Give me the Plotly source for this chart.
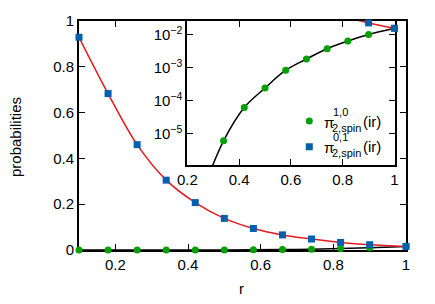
import numpy as np
import plotly.graph_objects as go

# ---- data ----
r = [0.10, 0.18, 0.26, 0.34, 0.42, 0.50, 0.58, 0.66, 0.74, 0.82, 0.90, 1.00]
p01 = [0.929, 0.683, 0.460, 0.305, 0.207, 0.138, 0.094, 0.066, 0.048, 0.033, 0.023, 0.0158]
p10 = [3e-11, 5e-9, 2e-7, 6.2e-6, 6.3e-5, 2.45e-4, 8.5e-4, 1.86e-3, 3.8e-3, 6.5e-3, 1.02e-2, 1.58e-2]

main_xticks = [0.2, 0.4, 0.6, 0.8, 1.0]
main_xlabels = ["0.2", "0.4", "0.6", "0.8", "1"]
main_yticks = [0, 0.2, 0.4, 0.6, 0.8, 1.0]
main_ylabels = ["0", "0.2", "0.4", "0.6", "0.8", "1"]
inset_xticks = [0.2, 0.4, 0.6, 0.8, 1.0]
inset_xlabels = ["0.2", "0.4", "0.6", "0.8", "1"]
inset_yticks = [1e-5, 1e-4, 1e-3, 1e-2]
inset_ylabels = ["10<sup>\u22125</sup>", "10<sup>\u22124</sup>", "10<sup>\u22123</sup>", "10<sup>\u22122</sup>"]

GREEN = "#00a000"
BLUE = "#0060ad"
RED = "#e41a1c"
FONT = "Liberation Sans, Arial, sans-serif"

OFF = 8  # page body margin
W, H = 435 - OFF, 304 - OFF
# plot area in page pixels: x 79..406, y 21..250
L_PG, R_PG, T_PG, B_PG = 79, 406, 21, 250
ML, MT = L_PG - OFF, T_PG - OFF
MR, MB = W - (R_PG - OFF), H - (B_PG - OFF)
PW, PH = R_PG - L_PG, B_PG - T_PG


def px(x):
    return (x - L_PG) / PW


def py(y):
    return (B_PG - y) / PH


fig = go.Figure()

for xa, ya in [("x", "y"), ("x2", "y2")]:
    fig.add_trace(go.Scatter(x=r, y=p10, mode="lines", line=dict(color="black", width=1.5, shape="spline"),
                             xaxis=xa, yaxis=ya, showlegend=False, hoverinfo="skip"))
    fig.add_trace(go.Scatter(x=r, y=p10, mode="markers", marker=dict(color=GREEN, size=7, symbol="circle"),
                             xaxis=xa, yaxis=ya, cliponaxis=False, showlegend=(xa == "x2"),
                             name=" ", legend="legend"))
    fig.add_trace(go.Scatter(x=r, y=p01, mode="lines", line=dict(color=RED, width=1.5, shape="spline"),
                             xaxis=xa, yaxis=ya, showlegend=False, hoverinfo="skip"))
    fig.add_trace(go.Scatter(x=r, y=p01, mode="markers", marker=dict(color=BLUE, size=7, symbol="square"),
                             xaxis=xa, yaxis=ya, cliponaxis=False, showlegend=(xa == "x2"),
                             name=" ", legend="legend2"))

axis_common = dict(showline=True, linecolor="black", linewidth=2, mirror="ticks", ticks="inside",
                   tickcolor="black", tickwidth=1, ticklen=6, showgrid=False, zeroline=False,
                   automargin=False,
                   tickfont=dict(family=FONT, size=15, color="black"), layer="below traces")

inset_x0, inset_x1 = px(187.3), px(394.5)
inset_y0 = py(165)

fig.update_layout(
    template="none",
    width=W, height=H,
    margin=dict(l=ML, r=MR, t=MT, b=MB, autoexpand=False),
    paper_bgcolor="white", plot_bgcolor="white",
    font=dict(family=FONT, size=15, color="black"),
    xaxis=dict(range=[0.1, 1.0], tickvals=main_xticks, ticktext=main_xlabels, **axis_common),
    yaxis=dict(range=[0, 1.0], tickvals=main_yticks, ticktext=main_ylabels, **axis_common),
    xaxis2=dict(domain=[inset_x0, inset_x1], anchor="y2", range=[0.2, 1.0],
                tickvals=inset_xticks, ticktext=inset_xlabels, **axis_common),
    yaxis2=dict(domain=[inset_y0, 1.0], anchor="x2", type="log", range=[-5.94, -1.58],
                tickvals=inset_yticks, ticktext=inset_ylabels, **axis_common),
    legend=dict(x=px(309.3 - 20), y=py(121), xanchor="left", yanchor="middle",
                bgcolor="rgba(0,0,0,0)", font=dict(size=10), borderwidth=0),
    legend2=dict(x=px(309.3 - 20), y=py(146.7), xanchor="left", yanchor="middle",
                 bgcolor="rgba(0,0,0,0)", font=dict(size=10), borderwidth=0),
)

# axis titles
fig.add_annotation(text="r", x=px(241.7), y=py(288.5), xref="paper", yref="paper",
                   xanchor="center", yanchor="middle", showarrow=False, font=dict(size=15))
fig.add_annotation(text="probabilities", x=px(15), y=py(137), xref="paper", yref="paper",
                   xanchor="center", yanchor="middle", showarrow=False, textangle=-90,
                   font=dict(size=15))

# legend labels with stacked super/subscripts
labels = [("1,0", 121.0), ("0,1", 146.7)]
for sup, yc in labels:
    fig.add_annotation(text="\u03c0", x=px(322.0), y=py(yc + 1), xref="paper", yref="paper",
                       xanchor="left", yanchor="middle", showarrow=False, font=dict(size=15))
    fig.add_annotation(text=sup, x=px(331.0), y=py(yc - 9.5), xref="paper", yref="paper",
                       xanchor="left", yanchor="middle", showarrow=False, font=dict(size=11))
    fig.add_annotation(text="2,spin", x=px(330.0), y=py(yc + 6.5), xref="paper", yref="paper",
                       xanchor="left", yanchor="middle", showarrow=False, font=dict(size=11))
    fig.add_annotation(text="(ir)", x=px(361.0), y=py(yc), xref="paper", yref="paper",
                       xanchor="left", yanchor="middle", showarrow=False, font=dict(size=15))

fig.write_html("out.html")
